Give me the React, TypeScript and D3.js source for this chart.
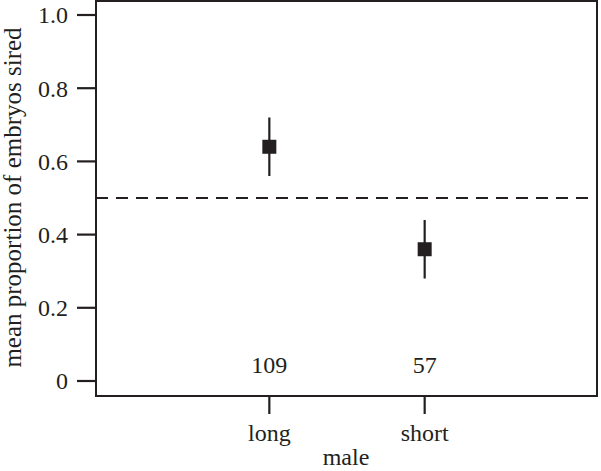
import React from "react";
import * as d3 from "d3";

const categories = ["long", "short"];
const means = [0.64, 0.36];
const upper = [0.72, 0.44];
const lower = [0.56, 0.28];
const counts = ["109", "57"];
const yTicks = [0, 0.2, 0.4, 0.6, 0.8, 1.0];
const yTickLabels = ["0", "0.2", "0.4", "0.6", "0.8", "1.0"];
const refLine = 0.5;

export default function App() {
  const W = 601, H = 471;
  const left = 96, right = 597, top = 1, bottom = 396;
  const y = d3.scaleLinear().domain([0, 1]).range([381, 15]);
  const x = d3.scalePoint<string>().domain(["", ...categories, " "]).range([114, 580]);
  const font = "'Liberation Serif', 'Times New Roman', serif";
  const col = "#231f20";
  const fs = 24;
  return (
    <svg width={W} height={H} style={{ position: "absolute", left: 0, top: 0, fontFamily: font }}>
      <rect x={left} y={top} width={right - left} height={bottom - top} fill="none" stroke={col} strokeWidth={2} />
      {yTicks.map((t, i) => (
        <g key={i}>
          <line x1={77} x2={left} y1={y(t)} y2={y(t)} stroke={col} strokeWidth={2.2} />
          <text x={68} y={y(t)} dy="0.35em" textAnchor="end" fontSize={fs} fill={col}>{yTickLabels[i]}</text>
        </g>
      ))}
      <text transform={`translate(21,${197.5}) rotate(-90)`} textAnchor="middle" fontSize={25} fill={col}>mean proportion of embryos sired</text>
      <line x1={left} x2={right} y1={y(refLine)} y2={y(refLine)} stroke={col} strokeWidth={2.2} strokeDasharray="12,8" />
      {categories.map((c, i) => {
        const cx = x(c)!;
        return (
          <g key={c}>
            <line x1={cx} x2={cx} y1={bottom} y2={414} stroke={col} strokeWidth={2.2} />
            <text x={cx} y={441} textAnchor="middle" fontSize={fs} fill={col}>{c}</text>
            <line x1={cx} x2={cx} y1={y(upper[i])} y2={y(lower[i])} stroke={col} strokeWidth={2.2} />
            <rect x={cx - 7} y={y(means[i]) - 7} width={14} height={14} fill={col} />
            <text x={cx} y={373} textAnchor="middle" fontSize={fs} fill={col}>{counts[i]}</text>
          </g>
        );
      })}
      <text x={346} y={465} textAnchor="middle" fontSize={fs} fill={col}>male</text>
    </svg>
  );
}
